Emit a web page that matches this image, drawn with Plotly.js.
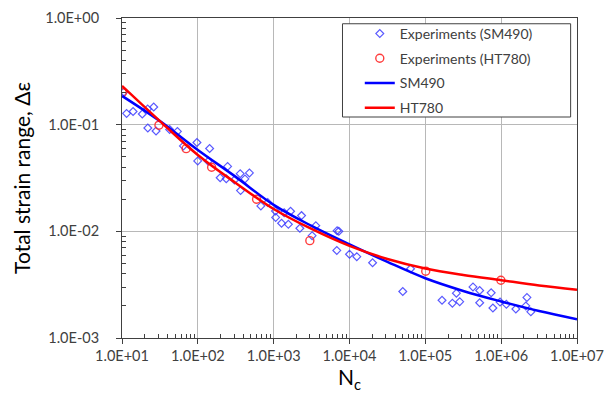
<!DOCTYPE html>
<html><head><meta charset="utf-8">
<script src="https://cdn.plot.ly/plotly-3.0.1.min.js"></script>
<style>html,body{margin:0;padding:0;background:#fff}</style>
</head><body><div id="chart" style="width:610px;height:407px"></div>
<script>
// Experimental data, SM490 (blue diamonds)
const sm490N = [10.6, 11.5, 14.0, 18.5, 21.8, 26.2, 21.9, 28.1, 42.5, 53.8, 64.6, 97.3, 99.7, 143, 137,
  247, 197, 237, 304, 362, 418, 479, 366, 678, 834, 1056, 1063, 1271, 1562, 1375, 1670, 2331, 2214,
  3216, 3597, 6865, 7228, 6802, 10000, 12480, 20150, 63830, 50390, 166000, 227500, 256900, 284000,
  425000, 521000, 521000, 738000, 778000, 967000, 1171000, 1562000, 2187000, 2116000, 2462000];
const sm490Strain = [0.2025, 0.1274, 0.1329, 0.1259, 0.1404, 0.1465, 0.0931, 0.0873, 0.0902, 0.0864, 0.0632, 0.0681, 0.0457, 0.0598, 0.0454,
  0.0406, 0.0318, 0.0311, 0.0303, 0.0347, 0.0310, 0.0353, 0.0241, 0.0173, 0.0186, 0.0155, 0.0135, 0.0119, 0.01163, 0.01497, 0.01543, 0.01404, 0.01069,
  0.00911, 0.01131, 0.01015, 0.01002, 0.00662, 0.0061, 0.00579, 0.00508, 0.00446, 0.00273, 0.00226, 0.00212, 0.00263, 0.00219,
  0.00301, 0.00279, 0.00214, 0.00265, 0.00191, 0.00217, 0.00207, 0.00187, 0.0024, 0.0020, 0.00176];
// Experimental data, HT780 (red circles)
const ht780N = [10.1, 30.7, 70.1, 152, 595, 2999, 101200, 991000];
const ht780Strain = [0.1995, 0.0989, 0.0596, 0.0399, 0.0200, 0.00818, 0.00423, 0.00348];
// Fitted curves
const fitN = [10, 31.6, 100, 316, 1000, 3162, 10000, 31623, 100000, 316228, 1000000, 3162278, 10000000];
const fitSM490 = [0.186, 0.108, 0.0579, 0.0324, 0.0177, 0.01124, 0.00754, 0.00517, 0.00363, 0.00276, 0.00220, 0.00179, 0.00150];
const fitHT780 = [0.231, 0.108, 0.052, 0.0284, 0.0162, 0.01052, 0.00730, 0.00551, 0.00449, 0.00390, 0.00348, 0.00311, 0.00284];
// Tick labels
const xTickVals = [1e1, 1e2, 1e3, 1e4, 1e5, 1e6, 1e7];
const xTickText = ['1.0E+01', '1.0E+02', '1.0E+03', '1.0E+04', '1.0E+05', '1.0E+06', '1.0E+07'];
const yTickVals = [1, 0.1, 0.01, 0.001];
const yTickText = ['1.0E+00', '1.0E-01', '1.0E-02', '1.0E-03'];

function minorVals(lo, hi) {
  const v = [];
  for (let d = lo; d < hi; d++) for (let k = 2; k <= 9; k++) v.push(k * Math.pow(10, d));
  return v;
}

const FONT = 'Lato, "Open Sans", sans-serif';
const traces = [
  {x: sm490N, y: sm490Strain, mode: 'markers', name: 'Experiments (SM490)', legendgroup: 'a',
   marker: {symbol: 'diamond-open', size: 6, color: 'rgba(60,60,255,0.85)', line: {width: 1.2}}},
  {x: ht780N, y: ht780Strain, mode: 'markers', name: 'Experiments (HT780)', legendgroup: 'b',
   marker: {symbol: 'circle-open', size: 8, color: 'rgba(255,40,40,0.9)', line: {width: 1.4}}},
  {x: fitN, y: fitSM490, mode: 'lines', name: 'SM490', legendgroup: 'c',
   line: {color: '#0000ff', width: 2.5, shape: 'spline', smoothing: 1}},
  {x: fitN, y: fitHT780, mode: 'lines', name: 'HT780', legendgroup: 'd',
   line: {color: '#ff0000', width: 2.5, shape: 'spline', smoothing: 1}}
];

const axisCommon = {
  type: 'log', showline: true, mirror: true, linecolor: '#404040', linewidth: 1,
  showgrid: true, gridcolor: '#b8b8b8', gridwidth: 1, zeroline: false,
  ticks: 'outside', ticklen: 5, tickcolor: '#404040', tickwidth: 1,
  tickmode: 'array', tickfont: {family: FONT, size: 14.5, color: '#404040'}
};

const layout = {
  width: 610, height: 407,
  margin: {l: 122, r: 33, t: 18, b: 69},
  paper_bgcolor: '#fff', plot_bgcolor: '#fff',
  font: {family: FONT, color: '#404040'},
  showlegend: true,
  xaxis: Object.assign({}, axisCommon, {
    range: [1, 7], tickvals: xTickVals, ticktext: xTickText,
    minor: {tickmode: 'array', tickvals: minorVals(1, 7), ticks: 'inside', ticklen: 4, tickcolor: '#404040', showgrid: false},
    title: {text: 'N<sub>c</sub>', font: {family: FONT, size: 21, color: '#000'}, standoff: 6}
  }),
  yaxis: Object.assign({}, axisCommon, {
    range: [-3, 0], tickvals: yTickVals, ticktext: yTickText, ticklabelstandoff: 14,
    minor: {tickmode: 'array', tickvals: minorVals(-3, 0), ticks: 'inside', ticklen: 4, tickcolor: '#404040', showgrid: false},
    title: {text: 'Total strain range, Δε', font: {family: FONT, size: 21, color: '#000'}, standoff: 8}
  }),
  legend: {x: 0.5226, y: 1.0, xanchor: 'left', yanchor: 'top', bgcolor: 'rgba(0,0,0,0)',
    borderwidth: 0, tracegroupgap: 3.5, font: {family: FONT, size: 14, color: '#404040'}},
  shapes: [{type: 'rect', xref: 'paper', yref: 'paper', x0: 0.4846, x1: 0.986, y0: 0.6906, y1: 0.982,
    line: {color: '#404040', width: 1}, fillcolor: '#ffffff', layer: 'above'}]
};

Plotly.newPlot('chart', traces, layout, {displayModeBar: false, staticPlot: true});
</script></body></html>
